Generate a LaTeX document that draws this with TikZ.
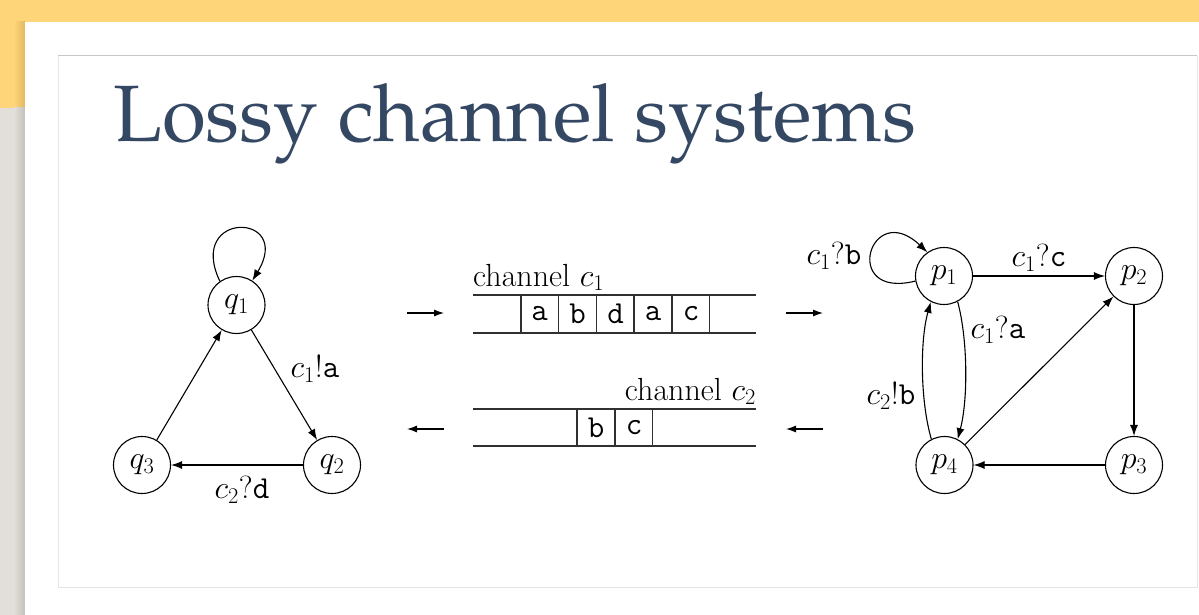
\RequirePackage{fix-cm}
\documentclass[tikz,border=0pt]{standalone}
\usepackage[T1,TU]{fontenc}
\usepackage{fontspec}
\newfontfamily\libserif{Liberation Serif}
\usetikzlibrary{arrows.meta}
\definecolor{yel}{HTML}{FFD57A}
\definecolor{yeldark}{HTML}{E2B862}
\definecolor{texgrey}{HTML}{E2DFDA}
\definecolor{texdark}{HTML}{C4C0BA}
\definecolor{titleblue}{HTML}{344864}
\definecolor{chanline}{HTML}{303030}
\newcommand\lblfont{\fontsize{32}{36}\selectfont}
\IfFileExists{t1ppl.fd}
  {\newcommand\titlefont{\fontencoding{T1}\fontfamily{ppl}\fontsize{80}{90}\selectfont}}
  {\newcommand\titlefont{\libserif\fontsize{78}{90}\selectfont}}
\tikzset{
  state/.style={circle,draw,line width=1.1pt,minimum size=57pt,inner sep=0pt,font=\lblfont},
  lab/.style={font=\lblfont,inner sep=0pt},
  cellt/.style={font=\lblfont,inner sep=0pt},
  arr/.style={line width=1.1pt,-{Latex[length=11pt,width=8pt]}},
  sarr/.style={line width=1.1pt,-{Latex[length=10pt,width=7pt]}},
  chan/.style={line width=1.1pt,draw=chanline}
}
\begin{document}
\begin{tikzpicture}[x=1pt,y=-1pt]
\useasboundingbox (0,0) rectangle (1199,615);
% background
\fill[yel] (0,0) rectangle (1199,22);
\fill[yel] (0,22) rectangle (25,108);
\fill[texgrey] (0,108) rectangle (25,615);
\shade[left color=yel,right color=yeldark] (14,22) rectangle (25,108);
\shade[left color=texgrey,right color=texdark] (14,108) rectangle (25,615);
\fill[white] (25,22) rectangle (1199,615);
\draw[black!10,line width=1pt] (58,56) -- (58,587) -- (1197,587) -- (1197,56);
\draw[black!22,line width=1pt] (58,56) -- (1197,56);
% title
\node[anchor=base west,inner sep=0pt,text=titleblue] (title) at (113,142) {\titlefont Lossy channel systems};
% left automaton
\node[state] (q1) at (236.5,305) {$q_1$};
\node[state] (q2) at (332,465) {$q_2$};
\node[state] (q3) at (142,465) {$q_3$};
\draw[arr] (q1.125) .. controls (186,210) and (294,212) .. (q1.57);
\draw[arr] (q1) -- (q2);
\draw[arr] (q2) -- (q3);
\draw[arr] (q3) -- (q1);
\node[lab] (l1) at (315,369) {$c_1$!\texttt{a}};
\node[lab] (l2) at (242,490) {$c_2$?\texttt{d}};
% channel c1
\draw[chan] (473,295) -- (756,295);
\draw[chan] (473,333) -- (756,333);
\foreach \x in {521,558.5,596.5,634,672,709.5} \draw[chan] (\x,295) -- (\x,333);
\node[cellt] (ca) at (539.5,314) {\texttt{a}};
\node[cellt] (cb) at (577.5,314) {\texttt{b}};
\node[cellt] (cd) at (615.5,314) {\texttt{d}};
\node[cellt] (ca2) at (653,314) {\texttt{a}};
\node[cellt] (cc) at (691,314) {\texttt{c}};
\node[lab,anchor=base west] (ch1) at (473,286) {channel $c_1$};
% channel c2
\draw[chan] (473,409) -- (756,409);
\draw[chan] (473,446) -- (756,446);
\foreach \x in {577,615,652.5} \draw[chan] (\x,409) -- (\x,446);
\node[cellt] (db) at (596,428) {\texttt{b}};
\node[cellt] (dc) at (634,428) {\texttt{c}};
\node[lab,anchor=base east] (ch2) at (756,400) {channel $c_2$};
% small arrows
\coordinate (a1s) at (407,313);
\coordinate (a1e) at (444,313);
\coordinate (a2s) at (786,313);
\coordinate (a2e) at (823,313);
\coordinate (b1s) at (444,429);
\coordinate (b1e) at (407,429);
\coordinate (b2s) at (823,429);
\coordinate (b2e) at (786,429);
\draw[sarr] (a1s) -- (a1e);
\draw[sarr] (a2s) -- (a2e);
\draw[sarr] (b1s) -- (b1e);
\draw[sarr] (b2s) -- (b2e);
% right automaton
\node[state] (p1) at (944,276) {$p_1$};
\node[state] (p2) at (1134,276) {$p_2$};
\node[state] (p3) at (1134,465) {$p_3$};
\node[state] (p4) at (944.5,465) {$p_4$};
\draw[arr] (p1.190) .. controls (840,300) and (870,198) .. (p1.125);
\draw[arr] (p1) -- (p2);
\draw[arr] (p2) -- (p3);
\draw[arr] (p3) -- (p4);
\draw[arr] (p4) -- (p2);
\draw[arr] (p1.-62) .. controls (968,340) and (968,400) .. (p4.63);
\draw[arr] (p4.117) .. controls (920,400) and (920,340) .. (p1.-117);
\node[lab] (m1) at (834,256) {$c_1$?\texttt{b}};
\node[lab] (m2) at (1039,258) {$c_1$?\texttt{c}};
\node[lab] (m3) at (998,330) {$c_1$?\texttt{a}};
\node[lab] (m4) at (891,396) {$c_2$!\texttt{b}};
\end{tikzpicture}
\end{document}
